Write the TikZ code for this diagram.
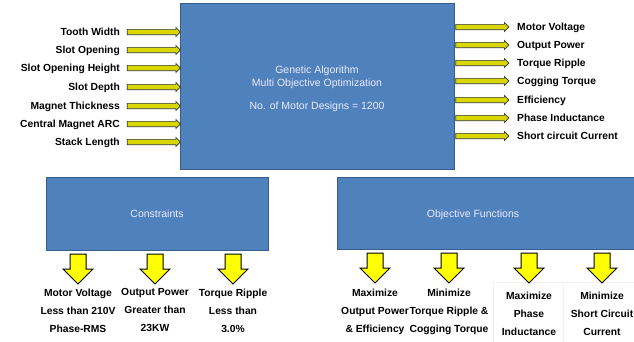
\documentclass[tikz,border=0pt]{standalone}
\usepackage{fontspec}
\setmainfont{Liberation Sans}
\usetikzlibrary{shapes.arrows}
\definecolor{boxblue}{HTML}{4F81BD}
\definecolor{boxedge}{HTML}{385D8A}
\definecolor{arrowyellow}{HTML}{FFFF00}
\definecolor{hyellow}{HTML}{D8D800}
\begin{document}
\begin{tikzpicture}[x=1pt,y=-1pt,
  bluebox/.style={draw=boxedge,fill=boxblue,line width=0.8pt,text=white!92!blue,font=\fontsize{10.5}{13}\selectfont,align=center},
  boxtext/.style={text=white!92!blue,font=\fontsize{10.5}{13}\selectfont,align=center},
  lab/.style={font=\bfseries\fontsize{10.3}{11}\selectfont,inner sep=0pt},
  collab/.style={font=\bfseries\fontsize{10.3}{18}\selectfont,align=center,inner sep=0pt},
  harrow/.style={single arrow,draw=black!80,fill=hyellow,line width=0.7pt,inner sep=0pt,inner ysep=2.3pt,
     minimum height=53pt,single arrow head extend=1.8pt,single arrow tip angle=90,anchor=center},
  varrow/.style={single arrow,draw=black,fill=arrowyellow,line width=1pt,inner sep=0pt,inner ysep=7.5pt,
     minimum height=30pt,single arrow head extend=7pt,single arrow tip angle=90,rotate=-90,anchor=center},
  whitebox/.style={draw=black!6,fill=white,line width=0.5pt}
]
\useasboundingbox (0,0) rectangle (634,341);
% main box
\node[bluebox,minimum width=274pt,minimum height=166pt,anchor=north west] (ga) at (180,3) {};
\node[boxtext] (gatext) at (317,89)
 {Genetic Algorithm\\Multi Objective Optimization\\[10pt]No. of Motor Designs = 1200};
% constraints box
\node[bluebox,minimum width=222pt,minimum height=73pt,anchor=north west] (con) at (46,177) {};
\node[boxtext,anchor=base] (context) at (157,217) {Constraints};
% objective box
\node[bluebox,minimum width=300pt,minimum height=72pt,anchor=north west] (obj) at (337,177) {};
\node[boxtext,anchor=base] (objtext) at (473,217) {Objective Functions};

% left inputs
\foreach \t/\y [count=\i] in {Tooth Width/32,Slot Opening/50,Slot Opening Height/68,Slot Depth/87,Magnet Thickness/106,Central Magnet ARC/124,Stack Length/142}{
  \node[lab,anchor=base east] (in\i) at (120,\y+3.7) {\t};
  \node[harrow] (ia\i) at (152.5,\y) {};
}
% right outputs
\foreach \t/\y [count=\i] in {Motor Voltage/27,Output Power/45,Torque Ripple/63,Cogging Torque/81,Efficiency/100,Phase Inductance/118,Short circuit Current/136}{
  \node[harrow] (oa\i) at (481,\y) {};
  \node[lab,anchor=base west] (out\i) at (517,\y+3.7) {\t};
}

% constraint arrows and labels
\foreach \x/\t [count=\i] in {78/{Motor Voltage\\Less than 210V\\Phase-RMS},155/{Output Power\\Greater than\\23KW},233/{Torque Ripple\\Less than\\3.0\%}}{
  \node[varrow] (ca\i) at (\x,265) {};
  \node[collab,anchor=north] (cl\i) at (\x,288.5) {\t};
}
% objective labels with white boxes
\node[whitebox,minimum width=70pt,minimum height=62pt,anchor=north west] (wb1) at (493,282) {};
\node[whitebox,minimum width=80pt,minimum height=62pt,anchor=north west] (wb2) at (563,282) {};
\foreach \x/\t [count=\i] in {375/{Maximize\\Output Power\\\& Efficiency},449/{Minimize\\Torque Ripple \&\\Cogging Torque}}{
  \node[varrow] (oa\i) at (\x,264) {};
  \node[collab,anchor=north] (ol\i) at (\x,288.5) {\t};
}
\foreach \x/\t [count=\i from 3] in {529/{Maximize\\Phase\\Inductance},602/{Minimize\\Short Circuit\\Current}}{
  \node[varrow] (oa\i) at (\x,264) {};
  \node[collab,anchor=north] (ol\i) at (\x,291.5) {\t};
}
\end{tikzpicture}
\end{document}
